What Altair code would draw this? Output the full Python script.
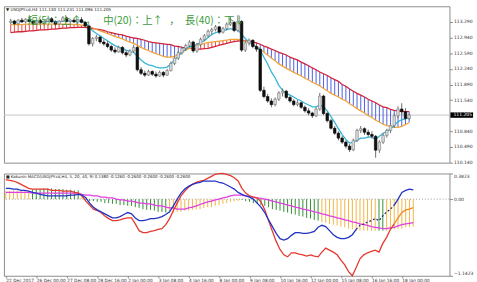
import json
import altair as alt
import pandas as pd

# ---------------- data (USDJPY H4) ----------------
opens = [113.28,113.31,113.25,113.33,113.29,113.35,113.30,113.26,113.32,113.27,
         113.30,113.36,113.29,113.24,113.31,113.38,113.30,113.33,113.29,113.34,
         113.28,113.20,112.80,112.92,112.95,112.84,112.80,112.74,112.66,112.62,
         112.72,112.60,112.55,112.64,112.72,112.22,112.14,112.10,112.18,112.12,
         112.08,112.16,112.10,112.20,112.36,112.48,112.60,112.70,112.76,112.84,
         112.64,112.78,112.90,112.98,113.08,113.12,113.18,113.06,113.14,113.24,
         113.28,113.10,113.30,112.66,112.82,112.88,112.74,112.68,111.76,111.62,
         111.52,111.44,111.56,111.70,111.74,111.60,111.52,111.44,111.48,111.38,
         111.30,111.25,111.19,111.34,111.63,111.24,111.08,110.91,110.80,110.69,
         110.60,110.51,110.43,110.64,110.86,110.90,110.82,110.77,110.73,110.42,
         110.60,110.75,110.86,110.97,111.19,111.34,111.28,111.130]
highs = [113.36,113.34,113.35,113.38,113.37,113.40,113.33,113.34,113.36,113.33,
         113.39,113.40,113.32,113.33,113.42,113.41,113.35,113.38,113.36,113.40,
         113.31,113.23,112.95,113.00,112.98,112.90,112.86,112.78,112.72,112.76,
         112.75,112.66,112.68,112.78,112.76,112.28,112.20,112.22,112.21,112.18,
         112.20,112.19,112.24,112.40,112.52,112.64,112.74,112.80,112.88,112.87,
         112.82,112.94,113.02,113.12,113.16,113.22,113.20,113.18,113.28,113.40,
         113.31,113.44,113.33,112.86,112.92,112.90,112.80,112.72,111.84,111.68,
         111.58,111.60,111.74,111.80,111.77,111.64,111.56,111.54,111.50,111.42,
         111.36,111.28,111.38,111.70,111.66,111.28,111.12,110.96,110.84,110.74,
         110.64,110.56,110.68,110.90,110.96,110.93,110.88,110.84,110.76,110.64,
         110.80,110.90,111.02,111.24,111.40,111.47,111.36,111.231]
lows = [113.24,113.22,113.23,113.27,113.26,113.28,113.22,113.24,113.25,113.21,
        113.28,113.27,113.20,113.22,113.29,113.28,113.25,113.27,113.24,113.26,
        113.17,112.76,112.74,112.86,112.80,112.76,112.70,112.62,112.58,112.60,
        112.56,112.50,112.52,112.60,112.18,112.10,112.06,112.08,112.08,112.04,
        112.06,112.05,112.08,112.18,112.32,112.44,112.56,112.64,112.72,112.60,
        112.60,112.74,112.86,112.94,113.00,113.08,113.02,113.03,113.10,113.20,
        113.06,113.06,112.62,112.62,112.76,112.70,112.62,111.72,111.58,111.48,
        111.38,111.40,111.52,111.62,111.56,111.48,111.40,111.40,111.34,111.26,
        111.20,111.14,111.16,111.30,111.20,111.04,110.88,110.76,110.64,110.56,
        110.46,110.38,110.40,110.60,110.80,110.76,110.72,110.68,110.25,110.36,
        110.56,110.70,110.80,110.92,111.14,111.22,111.10,111.096]
closes = [113.31,113.25,113.33,113.29,113.35,113.30,113.26,113.32,113.27,113.30,
          113.36,113.29,113.24,113.31,113.38,113.30,113.33,113.29,113.34,113.28,
          113.20,112.80,112.92,112.95,112.84,112.80,112.74,112.66,112.62,112.72,
          112.60,112.55,112.64,112.72,112.22,112.14,112.10,112.18,112.12,112.08,
          112.16,112.10,112.20,112.36,112.48,112.60,112.70,112.76,112.84,112.64,
          112.78,112.90,112.98,113.08,113.12,113.18,113.06,113.14,113.24,113.28,
          113.10,113.30,112.66,112.82,112.88,112.74,112.68,111.76,111.62,111.52,
          111.44,111.56,111.70,111.74,111.60,111.52,111.44,111.48,111.38,111.30,
          111.25,111.19,111.34,111.63,111.24,111.08,110.91,110.80,110.69,110.60,
          110.51,110.43,110.64,110.86,110.90,110.82,110.77,110.73,110.42,110.60,
          110.75,110.86,110.97,111.19,111.34,111.28,111.13,111.205]
ma_fast = [113.29,113.28,113.29,113.30,113.31,113.31,113.30,113.29,113.30,113.29,
           113.30,113.31,113.30,113.29,113.31,113.32,113.31,113.31,113.31,113.31,
           113.28,113.18,113.09,113.03,112.98,112.92,112.87,112.81,112.76,112.72,
           112.70,112.66,112.63,112.61,112.52,112.44,112.37,112.33,112.31,112.28,
           112.26,112.26,112.28,112.35,112.44,112.52,112.61,112.68,112.74,112.74,
           112.79,112.83,112.87,112.94,113.01,113.05,113.07,113.09,113.12,113.14,
           113.12,113.12,113.01,112.92,112.83,112.79,112.72,112.66,112.50,112.35,
           112.17,112.04,111.87,111.76,111.69,111.65,111.61,111.56,111.52,111.47,
           111.43,111.39,111.39,111.43,111.39,111.30,111.17,111.04,110.90,110.77,
           110.66,110.58,110.60,110.64,110.69,110.69,110.71,110.71,110.66,110.73,
           110.80,110.84,110.90,110.97,111.06,111.10,111.12,111.15]
ma_mid = [113.23,113.23,113.23,113.23,113.24,113.24,113.24,113.24,113.24,113.24,
          113.24,113.24,113.24,113.24,113.24,113.24,113.24,113.23,113.23,113.22,
          113.21,113.18,113.16,113.12,113.09,113.06,113.03,113.00,112.96,112.94,
          112.91,112.87,112.84,112.81,112.77,112.72,112.68,112.65,112.61,112.58,
          112.55,112.52,112.50,112.50,112.52,112.57,112.61,112.66,112.70,112.72,
          112.77,112.79,112.81,112.83,112.84,112.85,112.86,112.87,112.88,112.90,
          112.90,112.90,112.88,112.86,112.83,112.79,112.74,112.68,112.61,112.55,
          112.48,112.42,112.35,112.30,112.25,112.21,112.16,112.12,112.08,112.03,
          111.99,111.94,111.90,111.86,111.80,111.75,111.69,111.65,111.61,111.56,
          111.52,111.46,111.41,111.35,111.30,111.25,111.19,111.15,111.09,111.05,
          111.00,110.97,110.95,110.93,110.93,110.95,110.99,111.04]
ma_long = [113.05,113.06,113.07,113.07,113.08,113.09,113.09,113.10,113.11,113.11,
           113.12,113.13,113.13,113.14,113.15,113.15,113.16,113.16,113.17,113.17,
           113.17,113.15,113.14,113.13,113.12,113.10,113.07,113.05,113.03,113.01,
           113.00,112.97,112.95,112.93,112.92,112.90,112.88,112.85,112.83,112.82,
           112.81,112.80,112.79,112.78,112.75,112.74,112.72,112.71,112.70,112.69,
           112.68,112.68,112.69,112.70,112.72,112.74,112.77,112.79,112.81,112.83,
           112.85,112.86,112.87,112.87,112.86,112.84,112.82,112.79,112.75,112.72,
           112.68,112.65,112.61,112.58,112.55,112.50,112.47,112.44,112.39,112.35,
           112.31,112.26,112.22,112.17,112.13,112.09,112.04,112.00,111.96,111.89,
           111.85,111.79,111.74,111.69,111.65,111.61,111.56,111.52,111.48,111.43,
           111.39,111.37,111.33,111.31,111.30,111.29,111.28,111.28]
price_ticks = [110.140,110.490,110.840,111.190,111.540,111.890,112.240,112.590,112.940,113.290]
last_close = 111.205

macd_main = [0.16,0.16,0.15,0.15,0.13,0.13,0.12,0.10,0.09,0.07,
             0.06,0.05,0.05,0.05,0.05,0.05,0.05,0.06,0.06,0.07,
             0.06,0.02,-0.06,-0.12,-0.16,-0.19,-0.22,-0.25,-0.28,-0.28,
             -0.26,-0.23,-0.20,-0.22,-0.28,-0.32,-0.32,-0.31,-0.29,-0.29,
             -0.28,-0.26,-0.23,-0.19,-0.10,0.00,0.09,0.15,0.19,0.22,
             0.24,0.25,0.27,0.27,0.27,0.27,0.25,0.24,0.21,0.18,
             0.15,0.10,0.07,0.05,0.03,0.00,-0.06,-0.12,-0.20,-0.31,
             -0.41,-0.51,-0.59,-0.61,-0.59,-0.54,-0.50,-0.50,-0.51,-0.51,
             -0.50,-0.48,-0.42,-0.39,-0.41,-0.47,-0.53,-0.57,-0.59,-0.59,
             -0.57,-0.53,-0.45,-0.39,-0.37,-0.34,-0.32,-0.29,-0.32,-0.25,
             -0.19,-0.15,-0.09,0.00,0.10,0.13,0.15,0.138]
macd_red = [0.29,0.28,0.27,0.25,0.22,0.19,0.16,0.15,0.15,0.15,
            0.15,0.15,0.13,0.13,0.13,0.12,0.12,0.12,0.10,0.09,
            0.05,-0.03,-0.09,-0.15,-0.17,-0.20,-0.25,-0.29,-0.32,-0.32,
            -0.31,-0.29,-0.28,-0.28,-0.37,-0.47,-0.50,-0.50,-0.48,-0.47,
            -0.45,-0.44,-0.38,-0.29,-0.17,-0.06,0.05,0.12,0.18,0.22,
            0.25,0.27,0.28,0.31,0.34,0.37,0.38,0.3823,0.37,0.35,
            0.32,0.27,0.16,0.09,0.05,0.03,0.02,-0.04,-0.16,-0.32,
            -0.48,-0.63,-0.75,-0.83,-0.86,-0.80,-0.80,-0.82,-0.83,-0.85,
            -0.83,-0.85,-0.86,-0.79,-0.73,-0.76,-0.79,-0.83,-0.91,-0.98,
            -1.08,-1.1423,-1.02,-0.89,-0.83,-0.80,-0.78,-0.76,-0.79,-0.66,
            -0.57,-0.45,-0.37]
macd_orange = [-0.37,-0.28,-0.20,-0.16,-0.15,-0.126]
macd_hist = [0.12,0.12,0.13,0.13,0.12,0.12,0.11,0.14,0.15,0.15,
             0.16,0.16,0.16,0.15,0.15,0.15,0.14,0.14,0.13,0.13,
             0.06,-0.01,-0.03,-0.03,-0.04,-0.04,-0.06,-0.06,-0.07,-0.07,
             -0.09,-0.09,-0.10,-0.10,-0.12,-0.13,-0.15,-0.16,-0.16,-0.17,
             -0.19,-0.19,-0.20,-0.20,-0.20,-0.19,-0.19,-0.17,-0.17,-0.16,
             -0.15,-0.15,-0.13,-0.12,-0.12,-0.10,-0.09,-0.07,-0.06,-0.04,
             -0.03,-0.03,-0.01,-0.03,-0.04,-0.06,-0.07,-0.09,-0.10,-0.12,
             -0.15,-0.16,-0.17,-0.19,-0.20,-0.22,-0.23,-0.25,-0.26,-0.28,
             -0.29,-0.31,-0.32,-0.34,-0.35,-0.37,-0.38,-0.39,-0.41,-0.42,
             -0.44,-0.45,-0.47,-0.47,-0.47,-0.47,-0.47,-0.47,-0.47,-0.47,
             -0.47,-0.45,-0.45,-0.44,-0.44,-0.42,-0.42,-0.41]
hist_kind = (["o"] * 7 + ["g"] * 13 + ["o"] * 1 + ["g"] * 22 + ["o"] * 19 +
             ["g"] * 21 + ["o"] * 15 + ["g"] * 2 + ["o"] * 8)
macd_signal = [0.10,0.10,0.10,0.10,0.10,0.10,0.10,0.09,0.09,0.09,
               0.09,0.09,0.09,0.09,0.09,0.09,0.09,0.09,0.09,0.09,
               0.07,0.06,0.06,0.05,0.05,0.03,0.03,0.02,0.02,0.00,
               -0.01,-0.01,-0.03,-0.03,-0.04,-0.06,-0.06,-0.07,-0.07,-0.09,
               -0.10,-0.10,-0.12,-0.13,-0.13,-0.15,-0.15,-0.15,-0.13,-0.12,
               -0.10,-0.08,-0.06,-0.04,-0.03,-0.01,0.00,0.02,0.03,0.05,
               0.06,0.06,0.06,0.05,0.04,0.03,0.02,0.01,0.00,-0.01,
               -0.03,-0.04,-0.06,-0.07,-0.09,-0.10,-0.12,-0.13,-0.15,-0.16,
               -0.17,-0.19,-0.20,-0.22,-0.23,-0.25,-0.26,-0.28,-0.29,-0.31,
               -0.32,-0.34,-0.35,-0.37,-0.38,-0.39,-0.41,-0.42,-0.43,-0.44,
               -0.44,-0.43,-0.42,-0.40,-0.38,-0.37,-0.36,-0.35]
macd_range = [-1.1423, 0.0, 0.3823]
ORANGE_FROM = 102
DASH_FROM, DASH_TO = 92, 102

x_tick_bars = [0, 8, 16, 24, 32, 40, 48, 56, 64, 72, 80, 88, 96, 104]
x_labels = ["22 Dec 2017", "26 Dec 00:00", "27 Dec 08:00", "28 Dec 16:00",
            "2 Jan 00:00", "3 Jan 08:00", "4 Jan 16:00", "8 Jan 00:00",
            "9 Jan 08:00", "10 Jan 16:00", "12 Jan 00:00", "15 Jan 08:00",
            "16 Jan 16:00", "18 Jan 00:00"]

header_main = "\u25bc USDJPY.cd,H4  111.130 111.231 111.096 111.205"
signal_parts = ["短(5)：上↑", "，", "中(20)：上↑", "，", "長(40)：下↓"]
header_macd = "\u25a0 Kakunin MACD(USDJPY.cd,H4, 5, 20, 40, 9) 0.1380 -0.1260 -0.2600 -0.2600 -0.2600 -0.2600"

# ---------------- chart ----------------
N = len(closes)
df = pd.DataFrame({"i": list(range(N)), "open": opens, "high": highs, "low": lows,
                   "close": closes, "ma5": ma_fast, "ma20": ma_mid, "ma40": ma_long})

W = 453
H_MAIN = 159
H_MACD = 104
FONT = "DejaVu Sans"

xs = alt.Scale(domain=[-0.5, 116.5], nice=False, zero=False)
X = alt.X("i:Q", scale=xs, axis=None)
ys = alt.Scale(domain=[110.14, 113.64], nice=False, zero=False)

y_axis = alt.Axis(orient="right", values=price_ticks, format=".3f", labelFontSize=4.6,
                  labelFont=FONT, labelColor="#333", tickSize=3, tickColor="#888",
                  domain=False, grid=False, title=None, labelPadding=1)


def PY(field):
    return alt.Y(field, scale=ys, axis=y_axis)


base = alt.Chart(df)

price_rule = alt.Chart(pd.DataFrame({"p": [last_close]})).mark_rule(
    color="#c6c6c6", strokeWidth=1).encode(y=PY("p:Q"))

hatch = base.transform_calculate(
    trend="datum.ma20 >= datum.ma40 ? 'up' : 'down'"
).mark_rule(strokeWidth=1).encode(
    x=X, y=PY("ma20:Q"), y2="ma40:Q",
    color=alt.Color("trend:N", scale=alt.Scale(domain=["up", "down"],
                    range=["#e8473f", "#4a5fe3"]), legend=None))

line40 = base.mark_line(color="#d3243a", strokeWidth=1.3).encode(x=X, y=PY("ma40:Q"))
line20 = base.mark_line(color="#f2a53a", strokeWidth=1.3).encode(x=X, y=PY("ma20:Q"))
line5 = base.mark_line(color="#35b4d8", strokeWidth=1.3).encode(x=X, y=PY("ma5:Q"))

wick = base.mark_rule(color="#6a6a6a", strokeWidth=1).encode(
    x=X, y=PY("low:Q"), y2="high:Q")
body = base.mark_bar(size=2.6, strokeWidth=0.6).encode(
    x=X, y=PY("open:Q"), y2="close:Q",
    color=alt.condition("datum.close >= datum.open", alt.value("#dcdcdc"), alt.value("#111111")),
    stroke=alt.condition("datum.close >= datum.open", alt.value("#777777"), alt.value("#000000")))

hdr_main = alt.Chart(pd.DataFrame({"t": [header_main]})).mark_text(
    align="left", baseline="middle", fontSize=4.2, font=FONT, color="#222").encode(
    x=alt.value(2), y=alt.value(3.5), text="t:N")
sig_df = pd.DataFrame({"t": signal_parts, "k": list(range(len(signal_parts)))})
sig_x = [24, 83, 101, 168, 184]
sig_txts = [
    alt.Chart(sig_df[sig_df.k == k]).mark_text(
        align="left", baseline="middle", fontSize=10.5, font="Noto Sans CJK JP",
        color="#3b9b3b").encode(x=alt.value(sig_x[k]), y=alt.value(15.5), text="t:N")
    for k in range(len(signal_parts))
]

price_box = alt.Chart(pd.DataFrame({"p": [last_close]})).mark_rule(
    color="#000", strokeWidth=5.5).encode(
    y=PY("p:Q"), x=alt.value(W + 1), x2=alt.value(W + 24))
price_lbl = alt.Chart(pd.DataFrame({"p": [last_close], "t": [f"{last_close:.3f}"]})).mark_text(
    align="left", baseline="middle", fontSize=4.6, font=FONT, color="white").encode(
    y=PY("p:Q"), x=alt.value(W + 4), text="t:N")

main = alt.layer(price_rule, hatch, line40, line20, line5, wick, body,
                 *sig_txts, hdr_main, price_box, price_lbl).properties(width=W, height=H_MAIN)

# ---- MACD panel ----
mdf = pd.DataFrame({"i": list(range(N)), "blue": macd_main, "hist": macd_hist,
                    "sig": macd_signal, "kind": hist_kind})
red_df = pd.DataFrame({"i": list(range(len(macd_red))), "v": macd_red})
org_df = pd.DataFrame({"i": list(range(ORANGE_FROM, ORANGE_FROM + len(macd_orange))), "v": macd_orange})
blue_a = mdf[mdf.i <= DASH_FROM]
blue_b = mdf[(mdf.i >= DASH_FROM) & (mdf.i <= DASH_TO)]
blue_c = mdf[mdf.i >= DASH_TO]

ym = alt.Scale(domain=[macd_range[0], macd_range[2]], nice=False, zero=False)
m_axis = alt.Axis(orient="right", values=macd_range,
                  labelExpr="datum.value == 0 ? '0.00' : format(datum.value, '.4f')",
                  labelFlush=True, labelFontSize=4.6, labelFont=FONT, labelColor="#333",
                  tickSize=3, tickColor="#888", domain=False, grid=False, title=None,
                  labelPadding=1)
lab_expr = f"{json.dumps(x_labels)}[indexof({json.dumps(x_tick_bars)}, datum.value)]"
x_axis = alt.Axis(values=x_tick_bars, labelExpr=lab_expr, labelAlign="left",
                  labelFontSize=4.4, labelFont=FONT, labelColor="#333", tickSize=2,
                  tickColor="#888", domain=False, grid=False, title=None,
                  labelPadding=1, labelOverlap=False, labelFlush=False)
XM = alt.X("i:Q", scale=xs, axis=x_axis)


def MY(field):
    return alt.Y(field, scale=ym, axis=m_axis)


zero = alt.Chart(pd.DataFrame({"z": [0.0]})).mark_rule(
    color="#9a9a9a", strokeDash=[1, 2], strokeWidth=1).encode(y=MY("z:Q"))
hist = alt.Chart(mdf).mark_rule(strokeWidth=1).encode(
    x=XM, y=MY("hist:Q"), y2=alt.datum(0),
    color=alt.Color("kind:N", scale=alt.Scale(domain=["g", "o"],
                    range=["#2f8f2f", "#f4b440"]), legend=None))
sig_line = alt.Chart(mdf).mark_line(color="#e23fe4", strokeWidth=1.3).encode(
    x=XM, y=MY("sig:Q"))
red_line = alt.Chart(red_df).mark_line(color="#e5392f", strokeWidth=1.3).encode(
    x=XM, y=MY("v:Q"))
org_line = alt.Chart(org_df).mark_line(color="#f08a2a", strokeWidth=1.3).encode(
    x=XM, y=MY("v:Q"))
blue1 = alt.Chart(blue_a).mark_line(color="#2233c4", strokeWidth=1.3).encode(
    x=XM, y=MY("blue:Q"))
blue2 = alt.Chart(blue_b).mark_line(color="#1c2a7a", strokeWidth=1.2, strokeDash=[2, 2]).encode(
    x=XM, y=MY("blue:Q"))
blue3 = alt.Chart(blue_c).mark_line(color="#2233c4", strokeWidth=1.3).encode(
    x=XM, y=MY("blue:Q"))
hdr_macd = alt.Chart(pd.DataFrame({"t": [header_macd]})).mark_text(
    align="left", baseline="middle", fontSize=4.0, font=FONT, color="#222").encode(
    x=alt.value(2), y=alt.value(4), text="t:N")

macd = alt.layer(zero, hist, sig_line, red_line, org_line, blue1, blue2, blue3,
                 hdr_macd).properties(width=W, height=H_MACD)

chart = alt.vconcat(main, macd, spacing=4).resolve_scale(
    color="independent"
).properties(
    padding={"left": 2, "top": 3, "right": 0, "bottom": 0},
    background="white"
).configure_view(stroke="#8c8c8c", strokeWidth=1)

chart.save("out.html", embed_options={"renderer": "svg", "actions": False})
